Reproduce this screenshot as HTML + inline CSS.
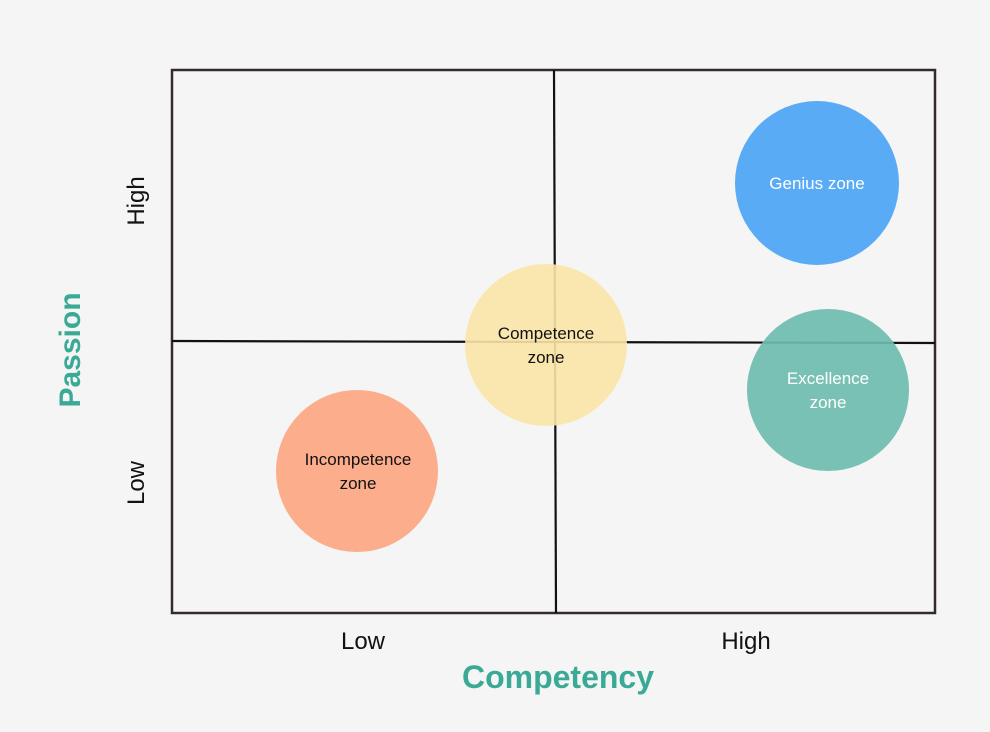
<!DOCTYPE html>
<html><head><meta charset="utf-8"><style>
html,body{margin:0;padding:0;background:#f5f5f5;}
svg{display:block;font-family:"Liberation Sans",sans-serif;}
</style></head><body>
<svg width="990" height="732" viewBox="0 0 990 732">
<rect width="990" height="732" fill="#f5f5f5"/>
<rect x="172" y="70" width="763" height="543" fill="none" stroke="#33292f" stroke-width="2.5"/>
<line x1="554" y1="70" x2="556" y2="613" stroke="#111" stroke-width="2.2"/>
<line x1="172" y1="341" x2="935" y2="343" stroke="#111" stroke-width="2.2"/>
<circle cx="817" cy="183" r="82" fill="#5aabf5"/>
<circle cx="828" cy="390" r="81" fill="#6dbcae" fill-opacity="0.92"/>
<circle cx="546" cy="345" r="81" fill="#fbe6a9" fill-opacity="0.9"/>
<circle cx="357" cy="471" r="81" fill="#fcad8b"/>
<g font-size="17" text-anchor="middle">
<text x="817" y="189" fill="#fff">Genius zone</text>
<text x="828" y="384" fill="#fff">Excellence</text>
<text x="828" y="408" fill="#fff">zone</text>
<text x="546" y="339" fill="#111">Competence</text>
<text x="546" y="363" fill="#111">zone</text>
<text x="358" y="465" fill="#111">Incompetence</text>
<text x="358" y="489" fill="#111">zone</text>
</g>
<g font-size="24" fill="#111" text-anchor="middle">
<text x="363" y="649">Low</text>
<text x="746" y="649">High</text>
<text transform="translate(144,201) rotate(-90)">High</text>
<text transform="translate(144,483) rotate(-90)">Low</text>
</g>
<text x="558" y="688" font-size="32" font-weight="bold" fill="#3aaa96" text-anchor="middle">Competency</text>
<text transform="translate(80,350) rotate(-90)" font-size="30" font-weight="bold" fill="#3aaa96" text-anchor="middle">Passion</text>
</svg>
</body></html>
